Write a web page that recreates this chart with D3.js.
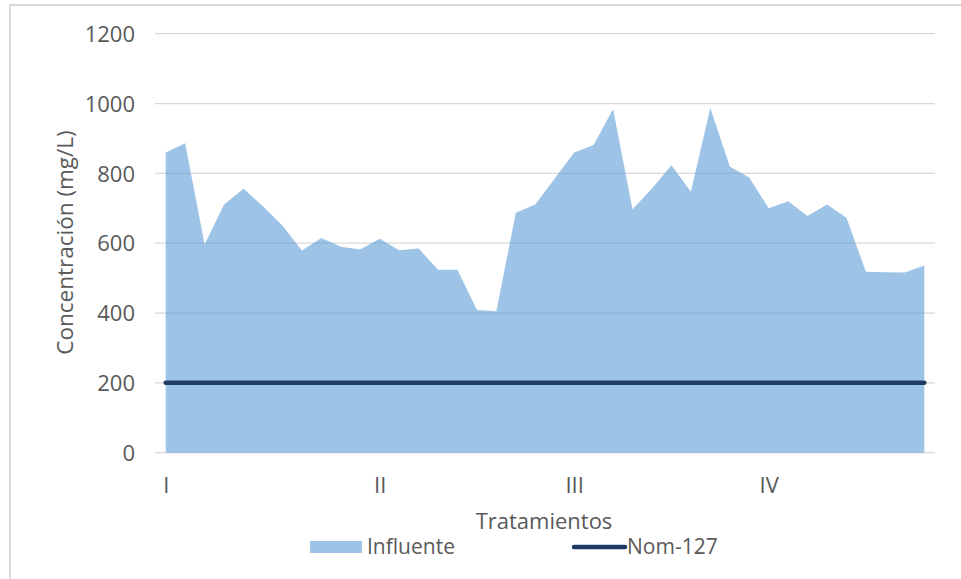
<!DOCTYPE html>
<html>
<head>
<meta charset="utf-8">
<script src="https://cdn.jsdelivr.net/npm/d3@7"></script>
<style>
  html, body { margin: 0; padding: 0; background: #fff; }
  svg { display: block; }
  text { font-family: "Open Sans", "Liberation Sans", sans-serif; fill: #595959; }
</style>
</head>
<body>
<svg id="chart" width="961" height="579"></svg>
<script>
// ---- Data ----
const categories = ["I","","","","","","","","","","","II","","","","","","","","","","III","","","","","","","","","","IV","","","","","","","",""];
const influente = [860, 886, 596, 711, 756, 706, 651, 579, 615, 590, 582, 613, 580, 585, 524, 524, 409, 405, 687, 711,
                   785, 860, 881, 984, 697, 757, 823, 747, 987, 820, 788, 700, 720, 678, 711, 673, 518, 517, 516, 536];
const nom127 = categories.map(() => 200);
const yTicks = [0, 200, 400, 600, 800, 1000, 1200];
const seriesNames = ["Influente", "Nom-127"];
const xTitle = "Tratamientos";
const yTitle = "Concentración (mg/L)";

// ---- Chart ----
const svg = d3.select("#chart");
const W = 961, H = 579;
const plot = { left: 156, right: 934, top: 33.7, bottom: 452.7 };

const idx = d3.range(categories.length);
const x = d3.scalePoint().domain(idx).range([plot.left, plot.right]).padding(0.5);
const y = d3.scaleLinear().domain([0, 1200]).range([plot.bottom, plot.top]);

// outer border
svg.append("rect")
  .attr("x", 10).attr("y", 5)
  .attr("width", W + 20).attr("height", H + 20)
  .attr("fill", "none").attr("stroke", "#D9D9D9").attr("stroke-width", 2);

// gridlines
svg.append("g")
  .selectAll("line.grid")
  .data(yTicks)
  .join("line")
  .attr("x1", plot.left - 1).attr("x2", plot.right + 1)
  .attr("y1", d => y(d)).attr("y2", d => y(d))
  .attr("stroke", "#D9D9D9").attr("stroke-width", 1.3);

// y-axis labels via axis
const yAxis = d3.axisLeft(y).tickValues(yTicks).tickSize(0).tickPadding(0).tickFormat(d3.format("d"));
const gy = svg.append("g").attr("transform", `translate(135,0)`).call(yAxis);
gy.select(".domain").remove();
gy.selectAll("text")
  .attr("x", 0)
  .style("font-family", "'Open Sans', sans-serif")
  .style("font-size", "22px")
  .attr("fill", "#595959")
  .attr("dy", "0.35em");

// area
const area = d3.area()
  .x((d, i) => x(i))
  .y0(y(0))
  .y1(d => y(d));
svg.append("path")
  .datum(influente)
  .attr("d", area)
  .attr("fill", "#5B9BD5")
  .attr("fill-opacity", 0.6);

// Nom-127 line
const line = d3.line().x((d, i) => x(i)).y(d => y(d));
svg.append("path")
  .datum(nom127)
  .attr("d", line)
  .attr("fill", "none")
  .attr("stroke", "#1F3864")
  .attr("stroke-width", 4.5)
  .attr("stroke-linecap", "round");

// x-axis labels via axis
const xAxis = d3.axisBottom(x).tickSize(0).tickFormat(i => categories[i]);
const gx = svg.append("g").attr("transform", `translate(0,${plot.bottom})`).call(xAxis);
gx.select(".domain").remove();
gx.selectAll("text")
  .attr("y", 33)
  .attr("dy", "0.35em")
  .style("font-family", "'Open Sans', sans-serif")
  .style("font-size", "22px")
  .attr("fill", "#595959");

// axis titles
svg.append("text")
  .attr("x", 544).attr("y", 521).attr("dy", "0.35em")
  .attr("text-anchor", "middle")
  .style("font-size", "22px")
  .text(xTitle);

svg.append("text")
  .attr("transform", "translate(65,242.5) rotate(-90)")
  .attr("dy", "0.35em")
  .attr("text-anchor", "middle")
  .style("font-size", "22.5px")
  .text(yTitle);

// legend
const lg = svg.append("g");
lg.append("rect")
  .attr("x", 310).attr("y", 541).attr("width", 52).attr("height", 12)
  .attr("fill", "#5B9BD5").attr("fill-opacity", 0.6);
lg.append("text")
  .attr("x", 367).attr("y", 547).attr("dy", "0.35em")
  .style("font-size", "21px")
  .text(seriesNames[0]);
lg.append("line")
  .attr("x1", 574).attr("x2", 625).attr("y1", 547).attr("y2", 547)
  .attr("stroke", "#1F3864").attr("stroke-width", 4.5).attr("stroke-linecap", "round");
lg.append("text")
  .attr("x", 627).attr("y", 547).attr("dy", "0.35em")
  .style("font-size", "21px")
  .text(seriesNames[1]);
</script>
</body>
</html>
